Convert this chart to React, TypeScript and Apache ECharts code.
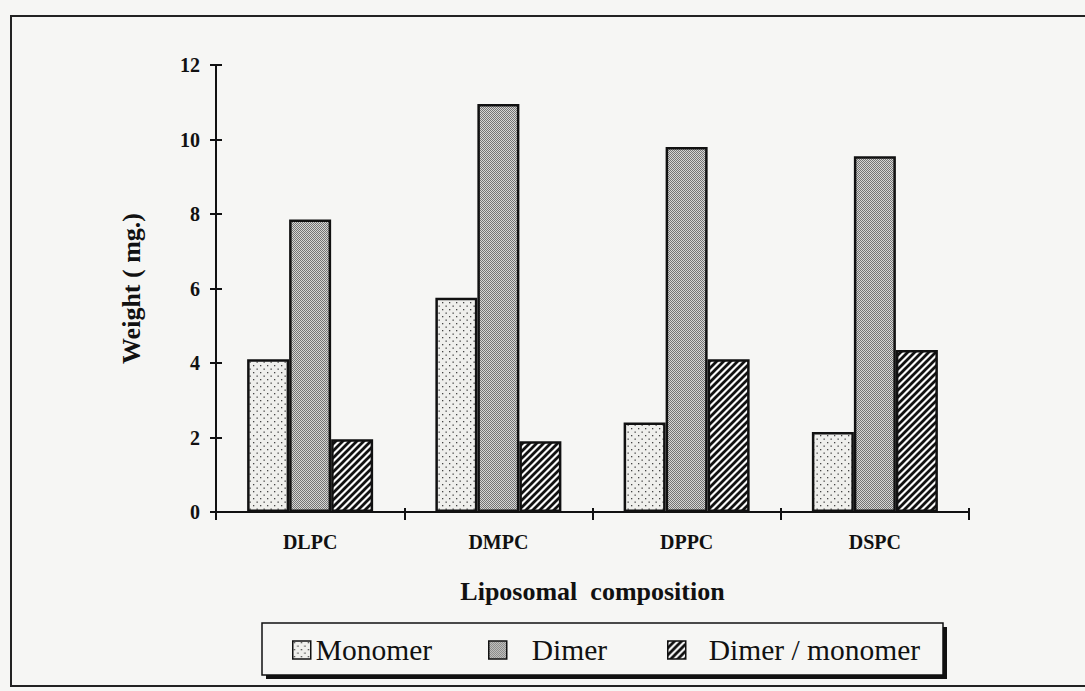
import React, { useEffect, useRef } from "react";
import * as echarts from "echarts";

const categories = ["DLPC", "DMPC", "DPPC", "DSPC"];
const monomer = [4.1, 5.75, 2.4, 2.15];
const dimer = [7.85, 10.95, 9.8, 9.55];
const ratio = [1.95, 1.9, 4.1, 4.35];
const seriesNames = ["Monomer", "Dimer", "Dimer / monomer"];
const yTicks = { min: 0, max: 12, interval: 2 };

const BG = "#f6f6f4";
const FONT = "'Liberation Serif', 'Times New Roman', serif";

function makeDots(): HTMLCanvasElement {
  const c = document.createElement("canvas");
  c.width = 7;
  c.height = 7;
  const g = c.getContext("2d")!;
  g.fillStyle = "#efefec";
  g.fillRect(0, 0, 7, 7);
  g.fillStyle = "#444";
  g.fillRect(1, 1, 1.3, 1.3);
  g.fillRect(4.5, 4.5, 1.3, 1.3);
  return c;
}

function makeChecker(): HTMLCanvasElement {
  const c = document.createElement("canvas");
  c.width = 2;
  c.height = 2;
  const g = c.getContext("2d")!;
  g.fillStyle = "#d6d6d4";
  g.fillRect(0, 0, 2, 2);
  g.fillStyle = "#747474";
  g.fillRect(0, 0, 1, 1);
  g.fillRect(1, 1, 1, 1);
  return c;
}

function makeHatch(): HTMLCanvasElement {
  const s = 7;
  const c = document.createElement("canvas");
  c.width = s;
  c.height = s;
  const g = c.getContext("2d")!;
  g.fillStyle = "#fafafa";
  g.fillRect(0, 0, s, s);
  g.strokeStyle = "#111";
  g.lineWidth = 2.8;
  g.beginPath();
  g.moveTo(0, s);
  g.lineTo(s, 0);
  g.moveTo(-s, s);
  g.lineTo(s, -s);
  g.moveTo(0, 2 * s);
  g.lineTo(2 * s, 0);
  g.stroke();
  return c;
}

export default function App() {
  const ref = useRef<HTMLDivElement>(null);
  useEffect(() => {
    if (!ref.current) return;
    const chart = echarts.init(ref.current, undefined, { renderer: "svg" });
    const patterns = [makeDots(), makeChecker(), makeHatch()];
    const values = [monomer, dimer, ratio];
    const legendPos = [
      { left: 292, pad: 0 },
      { left: 488, pad: 20 },
      { left: 667, pad: 18 },
    ];
    const axisLabelStyle = { fontFamily: FONT, fontWeight: "bold" as const, color: "#111" };
    chart.setOption({
      animation: false,
      backgroundColor: BG,
      graphic: [
        {
          type: "rect",
          shape: { x: 11, y: 16, width: 1090, height: 670 },
          style: { fill: "none", stroke: "#222", lineWidth: 2 },
          z: -1,
        },
        {
          type: "rect",
          shape: { x: 266, y: 627, width: 681, height: 52 },
          style: { fill: "#111" },
          z: -1,
        },
        {
          type: "rect",
          shape: { x: 262, y: 623, width: 681, height: 52 },
          style: { fill: BG, stroke: "#111", lineWidth: 1.5 },
          z: -1,
        },
      ],
      grid: { left: 216, right: 116, top: 65, bottom: 179 },
      legend: seriesNames.map((n, i) => ({
        data: [n],
        left: legendPos[i].left,
        top: 635,
        padding: 0,
        itemWidth: 18,
        itemHeight: 18,
        icon: "rect",
        itemStyle: { borderColor: "#111", borderWidth: 1.5 },
        textStyle: {
          fontFamily: FONT,
          fontSize: 29.5,
          color: "#111",
          padding: [0, 0, 0, legendPos[i].pad],
        },
      })),
      xAxis: [
        {
          type: "category",
          data: categories,
          boundaryGap: true,
          name: "Liposomal  composition",
          nameLocation: "middle",
          nameGap: 66,
          nameTextStyle: { ...axisLabelStyle, fontSize: 26 },
          axisLine: { lineStyle: { color: "#111", width: 2 } },
          axisTick: { show: true, length: 8, lineStyle: { color: "#111", width: 2 } },
          axisLabel: { ...axisLabelStyle, fontSize: 20, margin: 20 },
          splitLine: { show: false },
        },
        {
          type: "category",
          data: categories,
          position: "bottom",
          boundaryGap: true,
          axisLine: { show: false },
          axisTick: { show: true, inside: true, length: 4, lineStyle: { color: "#111", width: 2 } },
          axisLabel: { show: false },
          splitLine: { show: false },
        },
      ],
      yAxis: [
        {
          type: "value",
          ...yTicks,
          name: "Weight ( mg.)",
          nameLocation: "middle",
          nameGap: 72,
          nameTextStyle: { ...axisLabelStyle, fontSize: 26 },
          axisLine: { show: true, lineStyle: { color: "#111", width: 2 } },
          axisTick: { show: true, length: 6, lineStyle: { color: "#111", width: 2 } },
          axisLabel: { ...axisLabelStyle, fontSize: 20, margin: 16 },
          splitLine: { show: false },
        },
        {
          type: "value",
          ...yTicks,
          position: "left",
          axisLine: { show: false },
          axisTick: { show: true, inside: true, length: 6, lineStyle: { color: "#111", width: 2 } },
          axisLabel: { show: false },
          splitLine: { show: false },
        },
      ],
      series: seriesNames.map((n, i) => ({
        name: n,
        type: "bar",
        data: values[i],
        barWidth: 42,
        barGap: "0%",
        itemStyle: {
          color: { image: patterns[i], repeat: "repeat" },
          borderColor: "#111",
          borderWidth: 2.5,
        },
      })),
    });
    return () => chart.dispose();
  }, []);
  return (
    <div
      ref={ref}
      style={{ position: "absolute", left: 0, top: 0, width: 1085, height: 691 }}
    />
  );
}
